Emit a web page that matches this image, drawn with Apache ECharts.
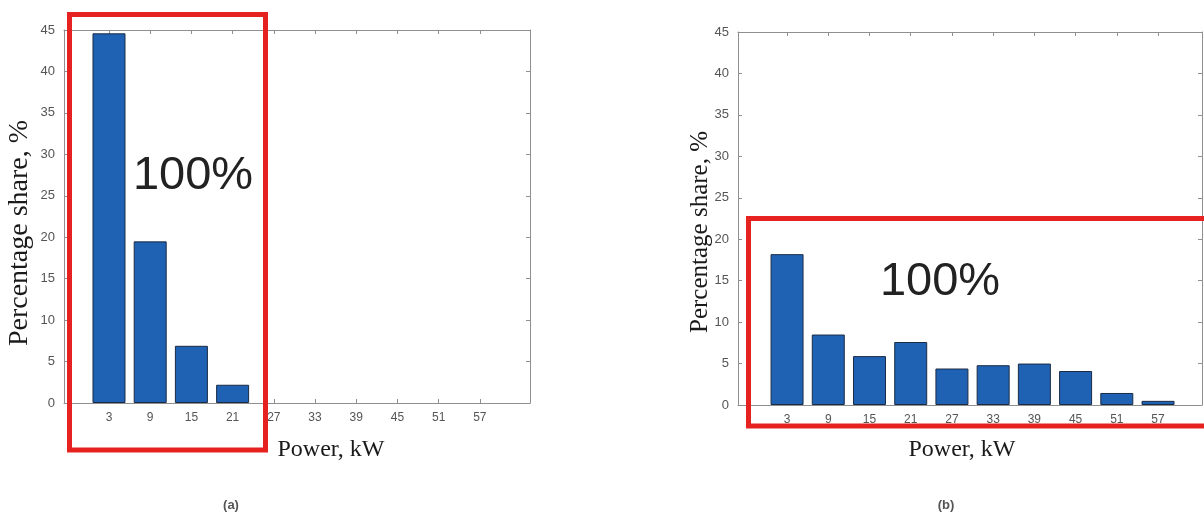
<!DOCTYPE html>
<html>
<head>
<meta charset="utf-8">
<script src="https://cdn.jsdelivr.net/npm/echarts@6/dist/echarts.min.js"></script>
<style>
  html, body { margin: 0; padding: 0; background: #ffffff; }
  #chart { width: 1204px; height: 514px; }
</style>
</head>
<body>
<div id="chart"></div>
<script>
// ---- data ----
const powerCategories = [3, 9, 15, 21, 27, 33, 39, 45, 51, 57];
const shareA = [44.6, 19.5, 6.9, 2.2];
const shareB = [18.2, 8.5, 5.9, 7.6, 4.4, 4.8, 5.0, 4.1, 1.45, 0.5];
const yMin = 0, yMax = 45, yStep = 5;
const xTitle = 'Power, kW';
const yTitle = 'Percentage share, %';
const boxLabel = '100%';
const captions = ['(a)', '(b)'];

// ---- styles ----
const axisColor = '#8f8f8f';
const labelColor = '#555555';
const barColor = '#1f62b3';
const barBorder = '#1b2b44';
const red = '#e5221f';

function pairs(values) {
  return values.map((v, i) => [powerCategories[i], v]);
}

function xAxes(gridIndex, min, max) {
  const common = {
    type: 'value', gridIndex, min, max,
    splitLine: { show: false },
    axisLine: { show: true, onZero: false, lineStyle: { color: axisColor, width: 1 } },
    axisTick: { show: true, inside: true, length: 4, lineStyle: { color: axisColor }, customValues: powerCategories }
  };
  return [
    Object.assign({}, common, {
      position: 'bottom',
      axisLabel: { show: true, customValues: powerCategories, color: labelColor, fontSize: 12, fontFamily: 'Liberation Sans', margin: 9 }
    }),
    Object.assign({}, common, { position: 'top', axisLabel: { show: false } })
  ];
}

function yAxes(gridIndex) {
  const common = {
    type: 'value', gridIndex, min: yMin, max: yMax, interval: yStep,
    splitLine: { show: false },
    axisLine: { show: true, onZero: false, lineStyle: { color: axisColor, width: 1 } },
    axisTick: { show: true, inside: true, length: 4, lineStyle: { color: axisColor } }
  };
  return [
    Object.assign({}, common, {
      position: 'left',
      axisLabel: { show: true, color: labelColor, fontSize: 13, fontFamily: 'Liberation Sans', margin: 9 }
    }),
    Object.assign({}, common, { position: 'right', axisLabel: { show: false } })
  ];
}

const barStyle = { color: barColor, borderColor: barBorder, borderWidth: 1 };

const chart = echarts.init(document.getElementById('chart'), null, { renderer: 'canvas' });
chart.setOption({
  backgroundColor: '#ffffff',
  animation: false,
  grid: [
    { left: 64, top: 30, width: 466, height: 373 },
    { left: 738, top: 32, width: 464, height: 373 }
  ],
  xAxis: [].concat(xAxes(0, -3.55, 64.3), xAxes(1, -4.14, 63.4)),
  yAxis: [].concat(yAxes(0), yAxes(1)),
  series: [
    { type: 'bar', xAxisIndex: 0, yAxisIndex: 0, data: pairs(shareA), barWidth: 33, itemStyle: barStyle },
    { type: 'bar', xAxisIndex: 2, yAxisIndex: 2, data: pairs(shareB), barWidth: 33, itemStyle: barStyle }
  ],
  graphic: [
    // axis titles
    { type: 'text', x: 331, y: 450, z: 10,
      style: { text: xTitle, font: '24px "Liberation Serif"', fill: '#1a1a1a', align: 'center', verticalAlign: 'middle' } },
    { type: 'text', x: 962, y: 450, z: 10,
      style: { text: xTitle, font: '24px "Liberation Serif"', fill: '#1a1a1a', align: 'center', verticalAlign: 'middle' } },
    { type: 'text', x: 20, y: 233, rotation: Math.PI / 2, z: 10,
      style: { text: yTitle, font: '28px "Liberation Serif"', fill: '#1a1a1a', align: 'center', verticalAlign: 'middle' } },
    { type: 'text', x: 700, y: 232, rotation: Math.PI / 2, z: 10,
      style: { text: yTitle, font: '25px "Liberation Serif"', fill: '#1a1a1a', align: 'center', verticalAlign: 'middle' } },
    // 100% annotations
    { type: 'text', x: 193, y: 176, z: 10,
      style: { text: boxLabel, font: '47px "Liberation Sans"', fill: '#222222', align: 'center', verticalAlign: 'middle' } },
    { type: 'text', x: 940, y: 282, z: 10,
      style: { text: boxLabel, font: '47px "Liberation Sans"', fill: '#222222', align: 'center', verticalAlign: 'middle' } },
    // red highlight boxes
    { type: 'rect', z: 20, shape: { x: 69.5, y: 14.5, width: 196, height: 435.5 },
      style: { fill: 'none', stroke: red, lineWidth: 5 } },
    { type: 'rect', z: 20, shape: { x: 748.5, y: 218.5, width: 480, height: 207.5 },
      style: { fill: 'none', stroke: red, lineWidth: 5 } },
    // captions
    { type: 'text', x: 231, y: 505, z: 10,
      style: { text: captions[0], font: 'bold 13px "Liberation Sans"', fill: '#555555', align: 'center', verticalAlign: 'middle' } },
    { type: 'text', x: 946, y: 505, z: 10,
      style: { text: captions[1], font: 'bold 13px "Liberation Sans"', fill: '#555555', align: 'center', verticalAlign: 'middle' } }
  ]
});
</script>
</body>
</html>
